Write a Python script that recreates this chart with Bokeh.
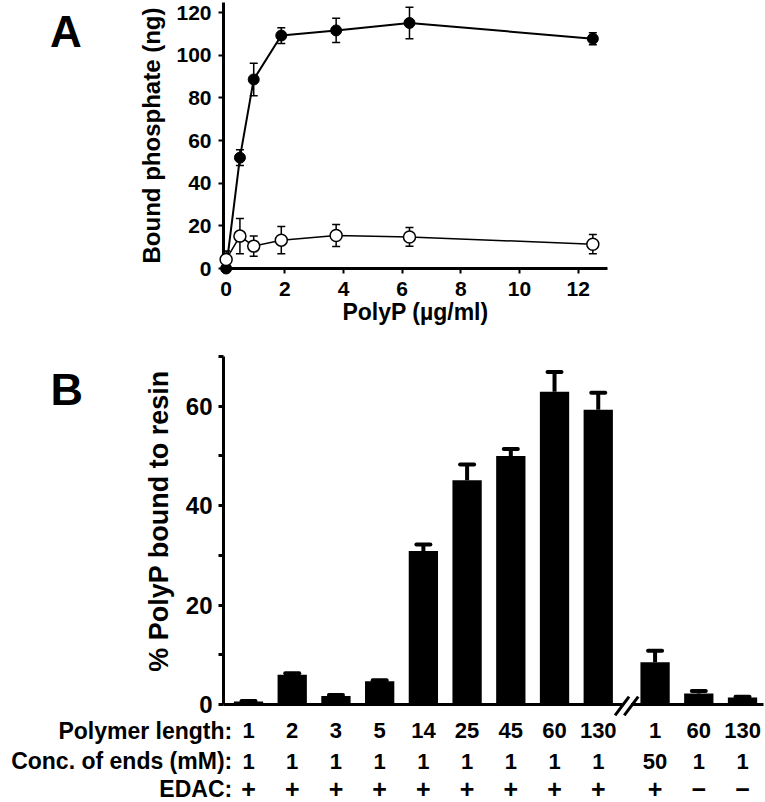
import math
from bokeh.plotting import figure
from bokeh.layouts import column
from bokeh.models import ColumnDataSource, Whisker, TeeHead, FixedTicker, Range1d
from bokeh.core.properties import value
from bokeh.embed import file_html
from bokeh.resources import INLINE

# ---------------- Panel A data ----------------
polyp_conc = [0, 0.47, 0.94, 1.88, 3.75, 6.25, 12.5]          # µg/ml
bound_edac = [0, 52.0, 88.7, 109.3, 111.7, 115.2, 107.8]       # ng, filled circles
bound_edac_sd = [0, 3.7, 7.6, 3.7, 5.7, 7.4, 2.8]
bound_ctrl = [4.2, 15.2, 10.5, 13.3, 15.5, 14.8, 11.4]         # ng, open circles
bound_ctrl_sd = [4.0, 8.3, 4.7, 6.4, 5.2, 4.4, 4.5]
a_xticks = [0, 2, 4, 6, 8, 10, 12]
a_yticks = [0, 20, 40, 60, 80, 100, 120]

# ---------------- Panel B data ----------------
polymer_length = ["1", "2", "3", "5", "14", "25", "45", "60", "130", "1", "60", "130"]
conc_ends = ["1", "1", "1", "1", "1", "1", "1", "1", "1", "50", "1", "1"]
edac = ["+", "+", "+", "+", "+", "+", "+", "+", "+", "+", "\u2212", "\u2212"]
pct_bound = [0.6, 6.0, 1.7, 4.7, 30.9, 45.1, 50.0, 62.9, 59.3, 8.5, 2.2, 1.4]
pct_bound_sd = [0.1, 0.3, 0.2, 0.2, 1.3, 3.2, 1.4, 4.0, 3.4, 2.3, 0.5, 0.15]
group = [0, 0, 0, 0, 0, 0, 0, 0, 0, 1, 1, 1]
row_titles = ["Polymer length:", "Conc. of ends (mM):", "EDAC:"]
b_yticks = [0, 20, 40, 60]
b_yminor = [10, 30, 50, 70]

FONT = value("Liberation Sans")
FONT_NAME = "Liberation Sans"


def style_axis(ax, label_size, tick_w, line_w):
    ax.axis_line_width = line_w
    ax.axis_line_color = "black"
    ax.major_tick_in = 0
    ax.major_tick_out = 5
    ax.major_tick_line_width = tick_w
    ax.minor_tick_line_color = None
    ax.major_label_text_font = FONT_NAME
    ax.major_label_text_font_style = "bold"
    ax.major_label_text_font_size = label_size
    ax.major_label_text_color = "black"
    ax.axis_label_text_font = FONT_NAME
    ax.axis_label_text_font_style = "bold"
    ax.axis_label_text_color = "black"


def add_text(p, x, y, text, size, align="center", angle=0.0):
    p.text(x=x, y=y, text=text, angle=angle, text_font=FONT, text_font_style="bold",
           text_font_size=size, text_align=align, text_baseline="middle",
           text_color="black", level="overlay")


# ================= Panel A =================
pA = figure(width=609, height=340, x_range=Range1d(-0.09, 13.0), y_range=Range1d(0, 124.8),
            output_backend="svg", toolbar_location=None,
            min_border_left=223, min_border_right=2, min_border_top=2, min_border_bottom=72)
pA.grid.visible = False
pA.outline_line_color = None

for ax in (pA.xaxis[0], pA.yaxis[0]):
    style_axis(ax, "21px", 2, 3)
pA.xaxis.ticker = FixedTicker(ticks=a_xticks)
pA.yaxis.ticker = FixedTicker(ticks=a_yticks)
pA.xaxis.axis_label = "PolyP (\u00b5g/ml)"
pA.yaxis.axis_label = "Bound phosphate (ng)"
pA.xaxis.axis_label_text_font_size = "23px"
pA.yaxis.axis_label_text_font_size = "24px"
pA.xaxis.major_label_standoff = 8
pA.xaxis.axis_label_standoff = 0
pA.yaxis.major_label_standoff = 7
pA.yaxis.axis_label_standoff = 8

srcA = ColumnDataSource(dict(
    x=polyp_conc,
    y1=bound_edac,
    lo1=[v - e for v, e in zip(bound_edac, bound_edac_sd)],
    hi1=[v + e for v, e in zip(bound_edac, bound_edac_sd)],
    y2=bound_ctrl,
    lo2=[v - e for v, e in zip(bound_ctrl, bound_ctrl_sd)],
    hi2=[v + e for v, e in zip(bound_ctrl, bound_ctrl_sd)],
))

for lo, hi in (("lo2", "hi2"), ("lo1", "hi1")):
    pA.add_layout(Whisker(source=srcA, base="x", lower=lo, upper=hi, line_width=1.5,
                          line_color="black",
                          upper_head=TeeHead(size=8, line_width=1.5, line_color="black"),
                          lower_head=TeeHead(size=8, line_width=1.5, line_color="black")))

pA.line("x", "y1", source=srcA, line_width=2, line_color="black", level="overlay")
pA.line("x", "y2", source=srcA, line_width=1.5, line_color="black", level="overlay")
pA.scatter("x", "y1", source=srcA, size=11, fill_color="black", line_color="black", level="overlay")
pA.scatter("x", "y2", source=srcA, size=12, fill_color="white", line_color="black",
           line_width=1.5, level="overlay")

add_text(pA, [-5.46], [111.2], ["A"], "44px")

# ================= Panel B =================
xpos = [i + 1 + 0.3 * g for i, g in enumerate(group)]

pB = figure(width=765, height=462, x_range=Range1d(0.428, 12.78), y_range=Range1d(0, 70),
            output_backend="svg", toolbar_location=None,
            min_border_left=223, min_border_right=2, min_border_top=16, min_border_bottom=98)
pB.grid.visible = False
pB.outline_line_color = None

style_axis(pB.yaxis[0], "24px", 3, 3)
pB.yaxis.ticker = FixedTicker(ticks=b_yticks, minor_ticks=b_yminor)
pB.yaxis.minor_tick_line_color = "black"
pB.yaxis.minor_tick_in = 0
pB.yaxis.minor_tick_out = 5
pB.yaxis.minor_tick_line_width = 3
pB.yaxis.major_label_standoff = 6

style_axis(pB.xaxis[0], "1px", 3, 3)
pB.xaxis.ticker = FixedTicker(ticks=[])
pB.xaxis.major_tick_line_color = None
pB.xaxis.major_label_text_color = None

srcB = ColumnDataSource(dict(
    x=xpos, top=pct_bound,
    hi=[v + e for v, e in zip(pct_bound, pct_bound_sd)],
    length=polymer_length, conc=conc_ends, edac=edac,
))

pB.vbar(x="x", top="top", width=0.67, source=srcB, fill_color="black", line_color=None)
pB.add_layout(Whisker(source=srcB, base="x", lower="top", upper="hi", line_width=4,
                      line_color="black", lower_head=None,
                      upper_head=TeeHead(size=14, line_width=4, line_color="black",
                                         line_cap="round")))

# axis break marks between the two groups
xb = (xpos[8] + xpos[9]) / 2
pB.quad(left=[xb - 0.1], right=[xb + 0.1], bottom=[-0.7], top=[0.7],
        fill_color="white", line_color=None, level="overlay")
pB.segment(x0=[xb - 0.265, xb - 0.055], y0=[-2.2, -2.2], x1=[xb + 0.055, xb + 0.265], y1=[1.6, 1.6],
           line_width=3, line_color="black", level="overlay")

# rows of conditions under the bars
row_y = [-5.23, -11.45, -17.0]
row_sizes = ["22px", "22px", "25px"]
for col, yv, sz in zip(("length", "conc", "edac"), row_y, row_sizes):
    pB.text(x="x", y=yv, text=col, source=srcB, text_font=FONT, text_font_style="bold",
            text_font_size=sz, text_align="center", text_baseline="middle",
            text_color="black", level="overlay")
add_text(pB, [0.627] * 3, row_y, row_titles, "23px", align="right")

add_text(pB, [-1.036], [36.9], ["% PolyP bound to resin"], "27px", angle=math.pi / 2)
add_text(pB, [-3.157], [63.4], ["B"], "45px")

layout = column(pA, pB)
open("out.html", "w").write(file_html(layout, INLINE))
